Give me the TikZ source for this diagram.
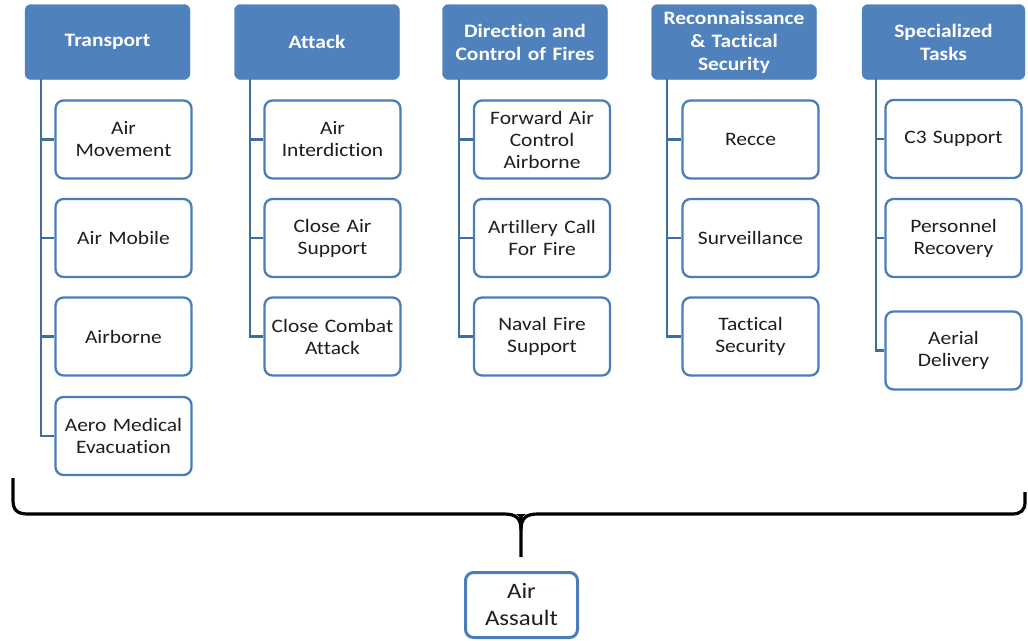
\documentclass[tikz,border=0pt]{standalone}
\usepackage{fontspec}
\setmainfont{Carlito}[FakeStretch=1.13,Ligatures=NoCommon]
\definecolor{hblue}{RGB}{79,129,189}
\definecolor{bblue}{RGB}{74,126,187}
\definecolor{lblue}{RGB}{64,108,160}
\definecolor{txt}{RGB}{30,30,30}
\begin{document}
\begin{tikzpicture}[x=1pt,y=-1pt,
  head/.style={draw=hblue, fill=hblue, rounded corners=6pt, minimum width=165pt, minimum height=75pt,
    text width=162pt, align=center, inner sep=0pt, text=white, font=\fontsize{19}{23}\selectfont\bfseries},
  child/.style={draw=bblue, line width=2.3pt, fill=white, rounded corners=8pt, minimum width=136pt,
    minimum height=78pt, text width=132pt, align=center, inner sep=0pt, text=txt, font=\fontsize{19}{22}\selectfont},
  conn/.style={draw=lblue, line width=2.6pt},
  brace/.style={draw=black, line width=3.2pt},
  root/.style={draw=bblue, line width=3pt, fill=white, rounded corners=8pt, minimum width=112pt,
    minimum height=65pt, text width=108pt, align=center, inner sep=0pt, text=txt, font=\fontsize{22}{27}\selectfont}]
\useasboundingbox (0,0) rectangle (1028,640);

% headers
\node[head] (T) at (107.5,42) {Transport};
\node[head] (A) at (317,42) {Attack};
\node[head] (D) at (525,42) {Direction and\\Control of Fires};
\node[head] (R) at (734,42) {Reconnaissance\\\& Tactical\\Security};
\node[head, minimum width=163pt] (S) at (943.5,42) {Specialized\\Tasks};

% vertical trunk coordinates
\coordinate (tv) at (41,79);
\coordinate (av) at (250,79);
\coordinate (dv) at (459,79);
\coordinate (rv) at (667,79);
\coordinate (sv) at (876,79);

% children
\node[child] (T1) at (123.5,139.5) {Air\\Movement};
\node[child] (T2) at (123.5,238) {Air Mobile};
\node[child] (T3) at (123.5,336.5) {Airborne};
\node[child] (T4) at (123.5,436) {Aero Medical\\Evacuation};

\node[child] (A1) at (332.5,139.5) {Air\\Interdiction};
\node[child] (A2) at (332.5,238) {Close Air\\Support};
\node[child] (A3) at (332.5,336.5) {Close Combat\\Attack};

\node[child] (D1) at (542,139.5) {Forward Air\\Control\\Airborne};
\node[child] (D2) at (542,238) {Artillery Call\\For Fire};
\node[child] (D3) at (542,336.5) {Naval Fire\\Support};

\node[child] (R1) at (750.5,139.5) {Recce};
\node[child] (R2) at (750.5,238) {Surveillance};
\node[child] (R3) at (750.5,336.5) {Tactical\\Security};

\node[child] (S1) at (953.5,139) {C3 Support};
\node[child] (S2) at (953.5,238) {Personnel\\Recovery};
\node[child] (S3) at (953.5,350.5) {Aerial\\Delivery};

% connectors
\draw[conn] (tv) |- (T4.west);
\foreach \i in {1,2,3} \draw[conn] (T\i.west) -- (T\i.west -| tv);
\draw[conn] (av) |- (A3.west);
\foreach \i in {1,2} \draw[conn] (A\i.west) -- (A\i.west -| av);
\draw[conn] (dv) |- (D3.west);
\foreach \i in {1,2} \draw[conn] (D\i.west) -- (D\i.west -| dv);
\draw[conn] (rv) |- (R3.west);
\foreach \i in {1,2} \draw[conn] (R\i.west) -- (R\i.west -| rv);
\draw[conn] (sv) |- (S3.west);
\foreach \i in {1,2} \draw[conn] (S\i.west) -- (S\i.west -| sv);

% brace
\draw[brace, line join=round] (13,478) -- (13,500) .. controls (13,510) and (17,514) .. (28,514)
  -- (504,514) .. controls (516,514) and (521,518) .. (521,530) -- (521,557);
\draw[brace, line join=round] (521,530) .. controls (521,518) and (526,514) .. (538,514)
  -- (1012,514) .. controls (1021,514) and (1025,510) .. (1025,502) -- (1025,492);
\fill (516,514) .. controls (520,516) and (521,520) .. (521,528) .. controls (521,520) and (522,516) .. (526,514) -- cycle;

% root
\node[root] (AA) at (521.5,605) {Air\\Assault};
\end{tikzpicture}
\end{document}
